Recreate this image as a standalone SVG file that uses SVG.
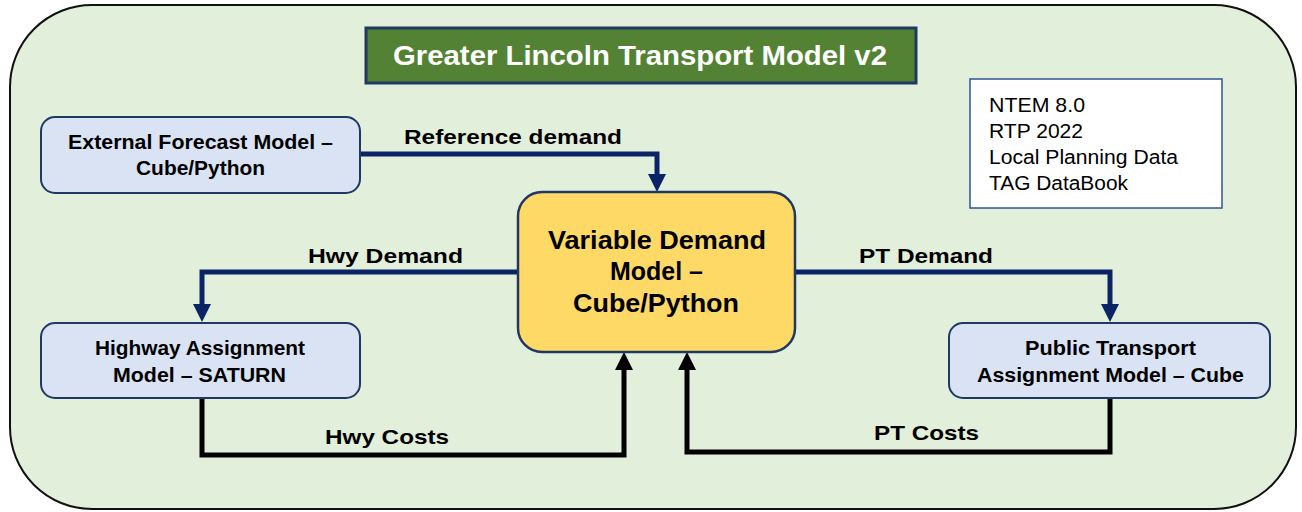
<svg xmlns="http://www.w3.org/2000/svg" width="1302" height="512" viewBox="0 0 1302 512">
  <style>
    .lbl { font-family: "Liberation Sans", Arial, sans-serif; font-weight: bold; fill: #000; }
    .node { fill: #dae3f3; stroke: #203864; stroke-width: 2; }
    .blue { fill: none; stroke: #0b2466; stroke-width: 5; stroke-linejoin: miter; }
    .black { fill: none; stroke: #000; stroke-width: 5; stroke-linejoin: miter; }
    .reg { font-family: "Liberation Sans", Arial, sans-serif; font-size: 20px; fill: #000; }
  </style>
  <defs>
    <marker id="ab" markerUnits="userSpaceOnUse" markerWidth="18" markerHeight="18" refX="0" refY="9" orient="auto" viewBox="0 0 18 18">
      <path d="M0,0 L18,9 L0,18 z" fill="#0b2466"/>
    </marker>
    <marker id="ak" markerUnits="userSpaceOnUse" markerWidth="18" markerHeight="18" refX="0" refY="9" orient="auto" viewBox="0 0 18 18">
      <path d="M0,0 L18,9 L0,18 z" fill="#000"/>
    </marker>
  </defs>

  <g id="container">
    <rect x="10" y="5" width="1286" height="504" rx="82" ry="82" fill="#e2efda" stroke="#111" stroke-width="2"/>
  </g>

  <g id="title">
    <rect x="366" y="28" width="550" height="55" fill="#548235" stroke="#1f3864" stroke-width="3"/>
    <text x="393" y="65" class="lbl" font-size="28" style="fill:#fff" textLength="494" lengthAdjust="spacingAndGlyphs">Greater Lincoln Transport Model v2</text>
  </g>

  <g id="connectors">
    <path class="blue" d="M360,154 H657 V174" marker-end="url(#ab)"/>
    <path class="blue" d="M518,272 H202 V304" marker-end="url(#ab)"/>
    <path class="blue" d="M795,272 H1110 V304" marker-end="url(#ab)"/>
    <path class="black" d="M202,398 V455 H624 V370" marker-end="url(#ak)"/>
    <path class="black" d="M1110,398 V452 H687 V370" marker-end="url(#ak)"/>
    <text x="404" y="144" class="lbl" font-size="21" textLength="218" lengthAdjust="spacingAndGlyphs">Reference demand</text>
    <text x="308" y="263" class="lbl" font-size="21" textLength="155" lengthAdjust="spacingAndGlyphs">Hwy Demand</text>
    <text x="859" y="263" class="lbl" font-size="21" textLength="134" lengthAdjust="spacingAndGlyphs">PT Demand</text>
    <text x="325" y="444" class="lbl" font-size="21" textLength="124" lengthAdjust="spacingAndGlyphs">Hwy Costs</text>
    <text x="874" y="440" class="lbl" font-size="21" textLength="105" lengthAdjust="spacingAndGlyphs">PT Costs</text>
  </g>

  <g id="external">
    <rect class="node" x="41" y="117" width="319" height="76" rx="14" ry="14"/>
    <text x="68" y="149" class="lbl" font-size="20" textLength="265" lengthAdjust="spacingAndGlyphs">External Forecast Model –</text>
    <text x="136" y="175" class="lbl" font-size="20" textLength="129" lengthAdjust="spacingAndGlyphs">Cube/Python</text>
  </g>

  <g id="vdm">
    <rect x="518" y="192" width="277" height="160" rx="24" ry="24" fill="#ffd966" stroke="#203864" stroke-width="2.5"/>
    <text x="548" y="249" class="lbl" font-size="25" textLength="218" lengthAdjust="spacingAndGlyphs">Variable Demand</text>
    <text x="610" y="280" class="lbl" font-size="25" textLength="93" lengthAdjust="spacingAndGlyphs">Model –</text>
    <text x="573" y="312" class="lbl" font-size="25" textLength="166" lengthAdjust="spacingAndGlyphs">Cube/Python</text>
  </g>

  <g id="highway">
    <rect class="node" x="41" y="323" width="319" height="75" rx="14" ry="14"/>
    <text x="95" y="355" class="lbl" font-size="20" textLength="210" lengthAdjust="spacingAndGlyphs">Highway Assignment</text>
    <text x="113" y="382" class="lbl" font-size="20" textLength="173" lengthAdjust="spacingAndGlyphs">Model – SATURN</text>
  </g>

  <g id="pt">
    <rect class="node" x="949" y="323" width="321" height="75" rx="14" ry="14"/>
    <text x="1025" y="355" class="lbl" font-size="20" textLength="171" lengthAdjust="spacingAndGlyphs">Public Transport</text>
    <text x="977" y="382" class="lbl" font-size="20" textLength="267" lengthAdjust="spacingAndGlyphs">Assignment Model – Cube</text>
  </g>

  <g id="sources">
    <rect x="970" y="79" width="252" height="129" fill="#fff" stroke="#2f5597" stroke-width="1.5"/>
    <text x="989" y="112" class="reg" textLength="96" lengthAdjust="spacingAndGlyphs">NTEM 8.0</text>
    <text x="989" y="138" class="reg" textLength="94" lengthAdjust="spacingAndGlyphs">RTP 2022</text>
    <text x="989" y="164" class="reg" textLength="189" lengthAdjust="spacingAndGlyphs">Local Planning Data</text>
    <text x="989" y="190" class="reg" textLength="139" lengthAdjust="spacingAndGlyphs">TAG DataBook</text>
  </g>
</svg>
